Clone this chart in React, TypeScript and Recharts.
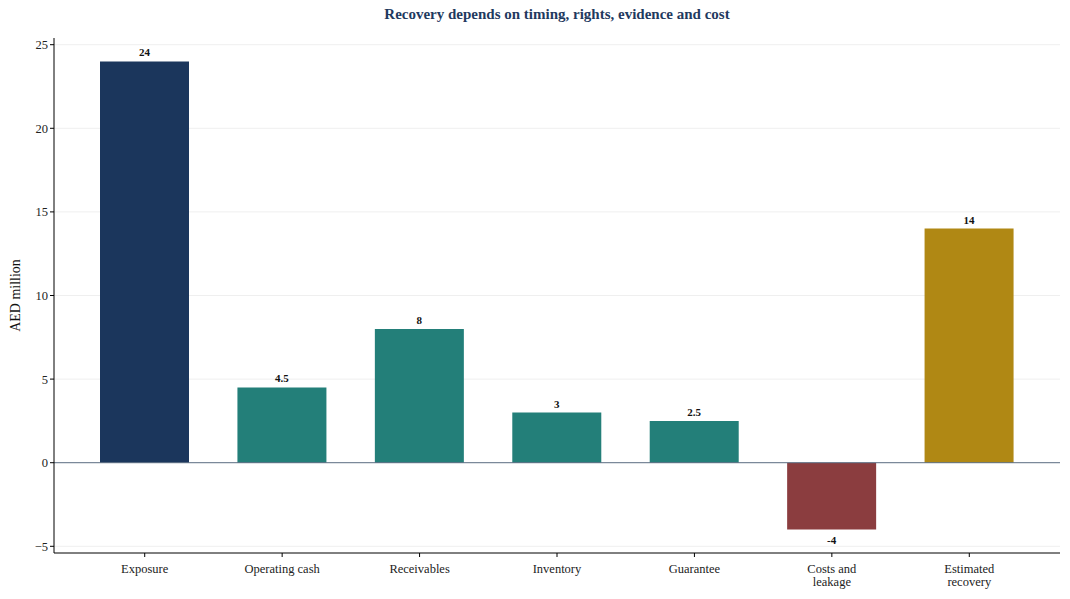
import React from 'react'
import { BarChart, Bar, XAxis, YAxis, CartesianGrid, ReferenceLine, Cell, LabelList, Label } from 'recharts'

const categories = ['Exposure', 'Operating cash', 'Receivables', 'Inventory', 'Guarantee', 'Costs and\nleakage', 'Estimated\nrecovery']
const values = [24, 4.5, 8, 3, 2.5, -4, 14]
const barColors = ['#1b365c', '#237f79', '#237f79', '#237f79', '#237f79', '#8b3d3f', '#b08814']
const yTicks = [-5, 0, 5, 10, 15, 20, 25]

const FONT = '"Liberation Serif", "Times New Roman", serif'

const data = categories.map((name, i) => ({ name, value: values[i], color: barColors[i] }))

const CategoryTick = (props: any) => {
  const { x, y, payload } = props
  const lines = String(payload.value).split('\n')
  return (
    <text x={x} y={y + 14} textAnchor="middle" fontFamily={FONT} fontSize={12.5} fill="#222">
      {lines.map((line, i) => (
        <tspan key={i} x={x} dy={i === 0 ? 0 : 13}>{line}</tspan>
      ))}
    </text>
  )
}

const ValueLabel = (props: any) => {
  const { x, y, width, height, value } = props
  const neg = value < 0
  const cx = x + width / 2
  const top = Math.min(y, y + height)
  const bottom = Math.max(y, y + height)
  const ty = neg ? bottom + 14 : top - 5
  return (
    <text x={cx} y={ty} textAnchor="middle" fontFamily={FONT} fontSize={11} fontWeight="bold" fill="#111">
      {value}
    </text>
  )
}

const formatTick = (v: number) => (v < 0 ? `\u2212${Math.abs(v)}` : `${v}`)

export default function App() {
  return (
    <div style={{ position: 'absolute', left: 0, top: 0, width: 1070, height: 599, background: '#fff' }}>
      <div
        style={{
          position: 'absolute',
          left: 54,
          width: 1006,
          top: 6,
          textAlign: 'center',
          fontFamily: FONT,
          fontSize: 15,
          fontWeight: 'bold',
          color: '#1f3a5f',
        }}
      >
        Recovery depends on timing, rights, evidence and cost
      </div>
      <BarChart width={1070} height={599} data={data} margin={{ top: 38, right: 10, bottom: 16, left: 0 }}>
        <CartesianGrid vertical={false} stroke="#efefef" horizontalValues={[-5, 5, 10, 15, 20, 25]} />
        <XAxis
          dataKey="name"
          interval={0}
          height={30}
          padding={{ left: 22, right: 22 }}
          tick={<CategoryTick />}
          tickSize={4}
          axisLine={{ stroke: '#000' }}
          tickLine={{ stroke: '#000' }}
        />
        <YAxis
          width={54}
          type="number"
          domain={[-5.4, 25.4]}
          ticks={yTicks}
          tickFormatter={formatTick}
          tickSize={4}
          axisLine={{ stroke: '#000' }}
          tickLine={{ stroke: '#000' }}
          tick={{ fontFamily: FONT, fontSize: 12.5, fill: '#222' }}
        >
          <Label
            content={(p: any) => {
              const vb = p.viewBox
              const cy = vb.y + vb.height / 2
              return (
                <text x={20} y={cy} transform={`rotate(-90 20 ${cy})`} textAnchor="middle" fontFamily={FONT} fontSize={14} fill="#111">
                  AED million
                </text>
              )
            }}
          />
        </YAxis>
        <ReferenceLine y={0} stroke="#5a6b80" strokeWidth={1} />
        <Bar dataKey="value" barSize={89} isAnimationActive={false}>
          {data.map((d, i) => (
            <Cell key={`cell-${i}`} fill={d.color} />
          ))}
          <LabelList dataKey="value" content={<ValueLabel />} />
        </Bar>
      </BarChart>
    </div>
  )
}
